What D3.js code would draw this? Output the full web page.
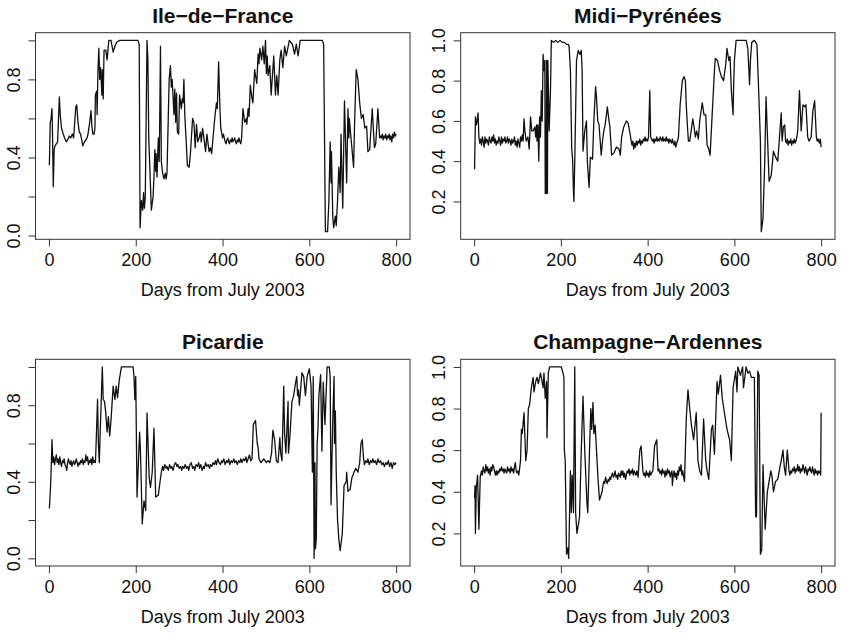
<!DOCTYPE html>
<html>
<head>
<meta charset="utf-8">
<script src="https://cdn.jsdelivr.net/npm/d3@7"></script>
<style>
  html, body { margin: 0; padding: 0; background: #fff; }
  svg { display: block; }
  text { font-family: "Liberation Sans", Arial, Helvetica, sans-serif; fill: #111; }
</style>
</head>
<body>
<script>
// series: [day, value]
const ileDeFrance = [[1,0.36],[3,0.58],[5,0.6],[7,0.65],[8,0.55],[10,0.25],[12,0.44],[14,0.46],[17,0.47],[20,0.48],[24,0.71],[26,0.62],[29,0.55],[33,0.52],[36,0.5],[40,0.48],[43,0.49],[47,0.51],[50,0.5],[54,0.52],[57,0.5],[60,0.6],[62,0.66],[64,0.67],[67,0.58],[70,0.53],[73,0.52],[78,0.46],[82,0.48],[88,0.5],[90,0.52],[92,0.55],[94,0.58],[95,0.6],[97,0.64],[99,0.56],[101,0.52],[104,0.52],[106,0.55],[107,0.72],[110,0.74],[111,0.62],[113,0.85],[115,0.96],[117,0.8],[119,0.86],[122,0.72],[123,0.85],[125,0.7],[127,0.95],[131,0.95],[134,0.9],[138,1.0],[143,1.0],[148,0.94],[152,0.97],[156,0.99],[163,1.0],[205,1.0],[208,0.98],[210,0.04],[213,0.18],[216,0.13],[218,0.22],[220,0.14],[222,0.2],[226,1.0],[228,0.9],[230,0.5],[236,0.13],[240,0.2],[242,0.3],[244,0.44],[246,0.33],[247,0.42],[249,0.3],[252,0.5],[254,0.38],[255,0.53],[257,0.97],[259,0.38],[262,0.32],[265,0.29],[268,0.32],[270,0.29],[272,0.32],[277,0.8],[280,0.87],[282,0.76],[284,0.8],[288,0.62],[290,0.75],[292,0.58],[294,0.73],[296,0.53],[299,0.52],[301,0.72],[305,0.65],[307,0.7],[309,0.68],[311,0.8],[313,0.62],[317,0.45],[319,0.36],[323,0.35],[326,0.42],[331,0.6],[334,0.58],[337,0.45],[340,0.57],[343,0.48],[346,0.5],[349,0.53],[351,0.48],[354,0.55],[357,0.5],[361,0.43],[364,0.52],[369,0.43],[372,0.45],[375,0.42],[382,0.6],[386,0.68],[388,0.65],[391,0.89],[394,0.65],[396,0.55],[400,0.5],[402,0.52],[404,0.5],[406,0.48],[408,0.47],[410,0.49],[412,0.5],[414,0.48],[416,0.47],[418,0.49],[420,0.48],[422,0.5],[424,0.48],[426,0.49],[428,0.5],[430,0.48],[432,0.47],[434,0.49],[436,0.48],[438,0.5],[440,0.48],[442,0.47],[444,0.5],[447,0.65],[451,0.58],[455,0.6],[456,0.57],[459,0.65],[461,0.61],[464,0.77],[468,0.7],[470,0.68],[474,0.85],[476,0.82],[479,0.78],[482,0.93],[484,0.88],[486,0.96],[490,0.9],[493,0.97],[496,0.88],[499,1.0],[501,0.83],[503,0.92],[505,0.82],[509,0.87],[512,0.72],[518,0.92],[522,0.72],[525,0.82],[528,0.72],[532,0.9],[535,0.95],[539,0.86],[543,0.97],[547,0.92],[554,1.0],[561,0.98],[566,0.93],[570,0.98],[574,0.92],[579,1.0],[630,1.0],[633,0.98],[637,0.02],[642,0.02],[645,0.17],[648,0.48],[650,0.27],[651,0.43],[654,0.1],[656,0.04],[660,0.1],[662,0.05],[665,0.18],[668,0.35],[671,0.22],[673,0.52],[677,0.14],[681,0.69],[686,0.27],[689,0.65],[691,0.5],[692,0.6],[702,0.35],[704,0.55],[708,0.85],[712,0.8],[716,0.68],[720,0.6],[724,0.62],[728,0.55],[732,0.56],[735,0.43],[739,0.44],[745,0.65],[750,0.45],[753,0.47],[758,0.65],[762,0.5],[764,0.51],[766,0.5],[768,0.52],[770,0.49],[772,0.51],[774,0.5],[776,0.52],[778,0.49],[780,0.51],[782,0.5],[784,0.52],[786,0.49],[788,0.51],[790,0.48],[792,0.52],[794,0.5],[796,0.53],[798,0.51],[800,0.52]];

const midiPyrenees = [[1,0.36],[3,0.62],[5,0.58],[7,0.6],[9,0.64],[11,0.52],[13,0.49],[15,0.51],[17,0.48],[19,0.52],[21,0.5],[23,0.47],[25,0.52],[27,0.49],[29,0.51],[31,0.5],[33,0.48],[35,0.52],[37,0.5],[39,0.49],[41,0.52],[43,0.5],[45,0.53],[47,0.49],[49,0.51],[51,0.48],[53,0.5],[55,0.49],[57,0.52],[59,0.5],[61,0.48],[63,0.52],[65,0.49],[67,0.51],[69,0.5],[71,0.52],[73,0.49],[75,0.5],[77,0.52],[79,0.49],[81,0.51],[83,0.5],[85,0.48],[87,0.51],[89,0.49],[91,0.5],[93,0.52],[95,0.48],[97,0.5],[99,0.47],[101,0.51],[103,0.49],[105,0.47],[107,0.52],[109,0.5],[111,0.53],[113,0.5],[115,0.61],[117,0.55],[120,0.5],[124,0.52],[127,0.46],[130,0.62],[133,0.55],[136,0.55],[140,0.57],[142,0.52],[144,0.58],[145,0.5],[147,0.58],[149,0.4],[151,0.62],[153,0.52],[155,0.75],[157,0.6],[159,0.93],[161,0.85],[163,0.9],[164,0.24],[166,0.24],[167,0.9],[169,0.24],[170,0.9],[173,0.55],[176,0.75],[178,1.0],[183,0.99],[188,1.0],[193,0.99],[198,1.0],[203,0.99],[208,0.99],[213,0.98],[217,0.98],[219,0.97],[222,0.85],[225,0.46],[227,0.41],[229,0.25],[230,0.2],[232,0.4],[236,0.9],[240,0.95],[244,0.93],[247,0.95],[249,0.85],[251,0.45],[255,0.55],[259,0.6],[261,0.4],[265,0.27],[268,0.42],[273,0.41],[276,0.6],[280,0.77],[282,0.72],[285,0.6],[288,0.58],[293,0.43],[296,0.5],[299,0.55],[302,0.58],[305,0.63],[307,0.67],[311,0.6],[313,0.57],[317,0.43],[322,0.44],[328,0.47],[334,0.46],[337,0.43],[340,0.52],[345,0.57],[351,0.6],[355,0.59],[360,0.53],[362,0.5],[364,0.48],[366,0.5],[368,0.46],[370,0.49],[372,0.47],[374,0.5],[376,0.48],[378,0.5],[380,0.49],[382,0.51],[384,0.48],[386,0.5],[388,0.49],[390,0.51],[392,0.5],[394,0.52],[396,0.5],[398,0.51],[400,0.5],[402,0.52],[405,0.75],[407,0.52],[409,0.51],[411,0.5],[413,0.51],[415,0.49],[417,0.51],[419,0.5],[421,0.52],[423,0.5],[425,0.51],[427,0.5],[429,0.52],[431,0.51],[433,0.5],[435,0.52],[437,0.5],[439,0.51],[441,0.5],[443,0.52],[445,0.5],[447,0.51],[449,0.49],[451,0.51],[453,0.5],[455,0.49],[457,0.51],[459,0.49],[461,0.48],[463,0.5],[465,0.47],[467,0.49],[469,0.5],[471,0.52],[475,0.68],[480,0.8],[484,0.82],[487,0.8],[489,0.68],[491,0.6],[494,0.5],[497,0.5],[501,0.56],[504,0.61],[507,0.57],[510,0.52],[513,0.55],[517,0.51],[520,0.6],[526,0.69],[530,0.63],[534,0.63],[537,0.48],[541,0.46],[544,0.43],[554,0.85],[556,0.91],[561,0.9],[566,0.85],[570,0.82],[575,0.8],[580,0.88],[583,0.96],[587,0.9],[590,0.92],[593,0.75],[597,0.63],[598,0.75],[600,0.9],[604,1.0],[627,1.0],[631,0.96],[635,0.78],[637,0.9],[640,0.99],[646,1.0],[652,0.98],[656,0.75],[660,0.5],[662,0.05],[666,0.12],[670,0.4],[673,0.72],[675,0.6],[680,0.3],[685,0.33],[690,0.45],[695,0.42],[700,0.4],[704,0.52],[708,0.64],[710,0.5],[713,0.57],[716,0.58],[718,0.5],[720,0.49],[722,0.51],[724,0.48],[726,0.5],[728,0.49],[730,0.51],[732,0.48],[734,0.5],[736,0.49],[738,0.51],[740,0.49],[742,0.5],[744,0.52],[746,0.55],[750,0.75],[754,0.55],[758,0.68],[762,0.67],[765,0.68],[769,0.52],[772,0.5],[775,0.51],[777,0.52],[781,0.65],[785,0.7],[789,0.52],[791,0.5],[793,0.51],[796,0.49],[798,0.51],[800,0.47]];

const picardie = [[1,0.26],[4,0.39],[6,0.53],[7,0.62],[9,0.5],[11,0.53],[13,0.49],[15,0.52],[17,0.54],[19,0.5],[21,0.52],[23,0.49],[25,0.53],[27,0.5],[29,0.48],[31,0.51],[33,0.5],[35,0.52],[37,0.49],[39,0.48],[41,0.46],[43,0.5],[45,0.52],[47,0.5],[49,0.49],[51,0.51],[53,0.48],[55,0.5],[57,0.51],[59,0.49],[61,0.5],[63,0.52],[65,0.5],[67,0.48],[69,0.5],[71,0.49],[73,0.51],[75,0.5],[77,0.52],[79,0.49],[81,0.51],[83,0.5],[85,0.54],[87,0.51],[89,0.53],[91,0.49],[93,0.51],[95,0.5],[97,0.52],[99,0.49],[101,0.53],[103,0.5],[105,0.51],[107,0.5],[108,0.55],[112,0.83],[114,0.6],[116,0.5],[119,0.72],[123,1.0],[125,0.83],[128,0.82],[131,0.76],[134,0.66],[137,0.74],[140,0.64],[143,0.72],[148,0.9],[152,0.83],[155,0.9],[158,0.84],[162,0.93],[167,1.0],[194,1.0],[196,0.95],[198,0.83],[200,0.95],[203,0.32],[207,0.55],[209,0.66],[211,0.55],[215,0.18],[219,0.3],[223,0.25],[226,0.76],[231,0.42],[234,0.37],[238,0.45],[242,0.68],[246,0.32],[252,0.33],[256,0.4],[259,0.45],[262,0.48],[264,0.46],[267,0.49],[270,0.47],[272,0.48],[275,0.46],[278,0.49],[281,0.47],[283,0.48],[286,0.46],[289,0.49],[292,0.5],[295,0.48],[297,0.49],[300,0.47],[303,0.48],[306,0.46],[308,0.48],[311,0.47],[314,0.49],[317,0.47],[320,0.48],[322,0.46],[325,0.49],[328,0.5],[331,0.47],[334,0.48],[336,0.46],[339,0.49],[342,0.48],[345,0.5],[347,0.47],[350,0.49],[353,0.46],[356,0.48],[358,0.47],[361,0.5],[364,0.48],[367,0.49],[370,0.47],[372,0.49],[375,0.48],[378,0.5],[381,0.49],[384,0.51],[386,0.49],[389,0.52],[392,0.5],[395,0.49],[398,0.51],[400,0.5],[403,0.52],[406,0.49],[409,0.51],[412,0.5],[414,0.52],[417,0.49],[420,0.51],[423,0.5],[426,0.52],[428,0.5],[431,0.51],[434,0.49],[437,0.51],[440,0.5],[442,0.52],[445,0.5],[448,0.52],[451,0.51],[454,0.53],[456,0.5],[459,0.52],[462,0.54],[465,0.51],[468,0.52],[471,0.7],[476,0.72],[480,0.6],[482,0.58],[484,0.52],[489,0.5],[495,0.52],[501,0.5],[505,0.51],[509,0.5],[513,0.55],[516,0.67],[520,0.62],[524,0.51],[528,0.5],[532,0.63],[534,0.55],[537,0.51],[541,0.9],[543,0.65],[546,0.55],[551,0.82],[552,0.55],[555,0.63],[560,0.82],[564,0.85],[567,0.9],[571,0.95],[573,0.85],[575,0.88],[577,0.8],[583,0.97],[587,0.95],[591,0.85],[595,0.95],[600,0.99],[604,0.9],[607,0.45],[609,0.95],[611,0.0],[613,0.5],[614,0.05],[616,0.1],[618,0.6],[620,0.68],[622,0.85],[626,0.96],[629,0.56],[632,0.92],[636,0.7],[641,1.0],[646,1.0],[648,0.95],[650,0.28],[654,0.72],[657,0.95],[658,0.6],[660,0.77],[662,0.45],[665,0.2],[668,0.1],[671,0.04],[676,0.13],[680,0.38],[685,0.4],[686,0.45],[689,0.35],[694,0.36],[698,0.42],[703,0.45],[707,0.47],[712,0.45],[716,0.5],[719,0.6],[722,0.62],[725,0.52],[727,0.49],[730,0.51],[733,0.5],[735,0.52],[738,0.49],[741,0.51],[744,0.5],[746,0.52],[749,0.5],[752,0.51],[755,0.49],[758,0.52],[761,0.5],[764,0.51],[767,0.49],[770,0.5],[773,0.48],[776,0.5],[779,0.49],[782,0.51],[785,0.48],[788,0.5],[791,0.47],[794,0.5],[797,0.49],[800,0.5]];

const champagneArdennes = [[1,0.37],[2,0.43],[3,0.2],[5,0.42],[8,0.48],[11,0.22],[14,0.47],[17,0.5],[19,0.48],[21,0.52],[23,0.5],[25,0.49],[27,0.53],[29,0.5],[31,0.52],[33,0.49],[35,0.51],[37,0.48],[39,0.52],[41,0.5],[43,0.53],[45,0.52],[47,0.5],[49,0.48],[51,0.5],[53,0.48],[55,0.5],[57,0.49],[59,0.51],[61,0.5],[63,0.52],[65,0.5],[67,0.51],[69,0.49],[71,0.51],[73,0.5],[75,0.49],[77,0.52],[79,0.5],[81,0.51],[83,0.49],[85,0.52],[87,0.5],[89,0.51],[91,0.49],[93,0.52],[95,0.54],[97,0.5],[99,0.49],[101,0.5],[103,0.48],[107,0.55],[109,0.7],[111,0.68],[113,0.73],[115,0.78],[119,0.55],[122,0.6],[125,0.8],[128,0.82],[132,0.9],[136,0.95],[138,0.88],[142,0.93],[145,0.95],[148,0.92],[153,0.97],[155,0.95],[159,0.9],[161,0.97],[164,0.85],[167,0.93],[168,0.66],[171,0.97],[174,1.0],[201,1.0],[205,0.97],[207,0.95],[208,0.6],[210,0.55],[213,0.1],[216,0.13],[218,0.08],[222,0.5],[224,0.3],[226,0.48],[229,0.3],[232,1.0],[234,0.3],[237,0.2],[241,0.25],[243,0.28],[247,0.6],[251,0.86],[255,0.6],[260,0.35],[262,0.3],[266,0.6],[269,0.8],[271,0.7],[274,0.83],[276,0.68],[279,0.72],[286,0.45],[289,0.36],[292,0.38],[295,0.4],[297,0.43],[299,0.45],[301,0.44],[303,0.47],[305,0.45],[307,0.44],[309,0.46],[311,0.45],[313,0.47],[315,0.46],[317,0.48],[319,0.49],[321,0.47],[323,0.48],[325,0.5],[327,0.47],[329,0.48],[331,0.46],[333,0.49],[335,0.48],[337,0.47],[339,0.5],[341,0.48],[343,0.5],[345,0.47],[347,0.49],[349,0.46],[351,0.48],[353,0.5],[355,0.49],[357,0.51],[359,0.48],[361,0.5],[363,0.49],[365,0.51],[367,0.48],[369,0.5],[371,0.49],[373,0.48],[375,0.5],[378,0.47],[382,0.6],[385,0.62],[389,0.5],[391,0.48],[393,0.49],[395,0.47],[397,0.5],[399,0.48],[401,0.49],[403,0.47],[405,0.5],[407,0.48],[409,0.49],[412,0.5],[416,0.62],[421,0.65],[424,0.5],[426,0.51],[428,0.49],[430,0.5],[432,0.48],[434,0.51],[436,0.49],[438,0.5],[440,0.47],[442,0.5],[444,0.48],[446,0.51],[448,0.49],[450,0.5],[452,0.47],[454,0.49],[456,0.5],[457,0.43],[459,0.48],[461,0.5],[463,0.47],[465,0.49],[467,0.46],[469,0.5],[471,0.48],[473,0.52],[475,0.5],[477,0.53],[479,0.48],[481,0.5],[483,0.47],[485,0.45],[489,0.75],[493,0.89],[497,0.8],[501,0.72],[506,0.65],[512,0.78],[516,0.55],[520,0.5],[524,0.48],[529,0.75],[534,0.55],[537,0.5],[541,0.46],[547,0.7],[550,0.72],[554,0.58],[560,0.93],[563,0.87],[568,0.96],[572,0.85],[577,0.78],[583,0.7],[589,0.65],[593,0.55],[597,0.9],[603,0.98],[606,0.88],[608,1.0],[614,0.96],[619,1.0],[621,0.9],[627,1.0],[631,0.97],[635,0.98],[639,0.95],[646,0.95],[649,0.28],[651,0.28],[654,0.98],[657,0.96],[660,0.1],[663,0.12],[666,0.53],[671,0.22],[676,0.4],[680,0.45],[684,0.5],[687,0.47],[690,0.4],[695,0.45],[700,0.46],[705,0.52],[708,0.55],[712,0.6],[715,0.52],[718,0.48],[722,0.6],[726,0.5],[728,0.48],[730,0.5],[732,0.49],[734,0.51],[736,0.5],[738,0.52],[740,0.49],[742,0.51],[744,0.5],[746,0.53],[748,0.5],[750,0.52],[752,0.49],[754,0.51],[756,0.5],[758,0.53],[760,0.51],[762,0.49],[764,0.52],[766,0.5],[768,0.48],[770,0.51],[772,0.5],[774,0.52],[776,0.5],[778,0.49],[780,0.52],[782,0.5],[784,0.48],[786,0.51],[788,0.49],[790,0.5],[792,0.48],[794,0.5],[796,0.49],[798,0.5],[799,0.48],[800,0.78]];

const titles = ["Ile\u2212de\u2212France", "Midi\u2212Pyrénées", "Picardie", "Champagne\u2212Ardennes"];
const xTicks = [0, 200, 400, 600, 800];
const yTicks = [[0, 0.2, 0.4, 0.6, 0.8, 1.0], [0.2, 0.4, 0.6, 0.8, 1.0], [0, 0.2, 0.4, 0.6, 0.8, 1.0], [0.2, 0.4, 0.6, 0.8, 1.0]];
const yTickLabels = [[0, 0.4, 0.8], [0.2, 0.4, 0.6, 0.8, 1.0], [0, 0.4, 0.8], [0.2, 0.4, 0.6, 0.8, 1.0]];
const xLabel = "Days from July 2003";

const W = 841, H = 635;
const cols = [[35.5, 410], [460.7, 835]];
const rows = [[32.7, 239.3], [359.3, 566]];
const series = [ileDeFrance, midiPyrenees, picardie, champagneArdennes];

const svg = d3.select("body").append("svg").attr("width", W).attr("height", H);

// R style 4% padding of the data range
function padded(ext) {
  const d = (ext[1] - ext[0]) * 0.04;
  return [ext[0] - d, ext[1] + d];
}

series.forEach((data, i) => {
  const [left, right] = cols[i % 2];
  const [top, bottom] = rows[Math.floor(i / 2)];

  const x = d3.scaleLinear().domain(padded(d3.extent(data, d => d[0]))).range([left, right]);
  const y = d3.scaleLinear().domain(padded(d3.extent(data, d => d[1]))).range([bottom, top]);

  const g = svg.append("g");

  g.append("path")
    .datum(data)
    .attr("fill", "none")
    .attr("stroke", "#111")
    .attr("stroke-width", 1.3)
    .attr("stroke-linejoin", "round")
    .attr("d", d3.line().x(d => x(d[0])).y(d => y(d[1])));

  g.append("rect")
    .attr("x", left).attr("y", top)
    .attr("width", right - left).attr("height", bottom - top)
    .attr("fill", "none").attr("stroke", "#333").attr("stroke-width", 1);

  const xAxis = g.append("g")
    .attr("transform", `translate(0,${bottom})`)
    .call(d3.axisBottom(x).tickValues(xTicks).tickSize(7).tickPadding(7).tickFormat(d3.format("d")));
  xAxis.select(".domain").remove();
  xAxis.selectAll("line").attr("stroke", "#333");
  xAxis.selectAll("text").attr("font-size", 18).style("font-family", "'Liberation Sans', Arial, sans-serif").attr("fill", "#111");

  const labels = yTickLabels[i];
  const yAxis = g.append("g")
    .attr("transform", `translate(${left},0)`)
    .call(d3.axisLeft(y).tickValues(yTicks[i]).tickSize(7)
      .tickFormat(v => labels.some(l => Math.abs(l - v) < 1e-9) ? d3.format(".1f")(v) : ""));
  yAxis.select(".domain").remove();
  yAxis.selectAll("line").attr("stroke", "#333");
  yAxis.selectAll("text")
    .attr("x", null).attr("dy", null)
    .attr("text-anchor", "middle")
    .attr("dominant-baseline", "central")
    .attr("transform", "translate(-21.5,0) rotate(-90)")
    .attr("font-size", 18)
    .style("font-family", "'Liberation Sans', Arial, sans-serif")
    .attr("fill", "#111");

  svg.append("text")
    .attr("x", (left + right) / 2).attr("y", top - 17.7)
    .attr("text-anchor", "middle").attr("dominant-baseline", "central")
    .attr("font-size", 21).attr("font-weight", "bold")
    .text(titles[i]);

  svg.append("text")
    .attr("x", (left + right) / 2).attr("y", bottom + 50.7)
    .attr("text-anchor", "middle").attr("dominant-baseline", "central")
    .attr("font-size", 18)
    .text(xLabel);
});
</script>
</body>
</html>
